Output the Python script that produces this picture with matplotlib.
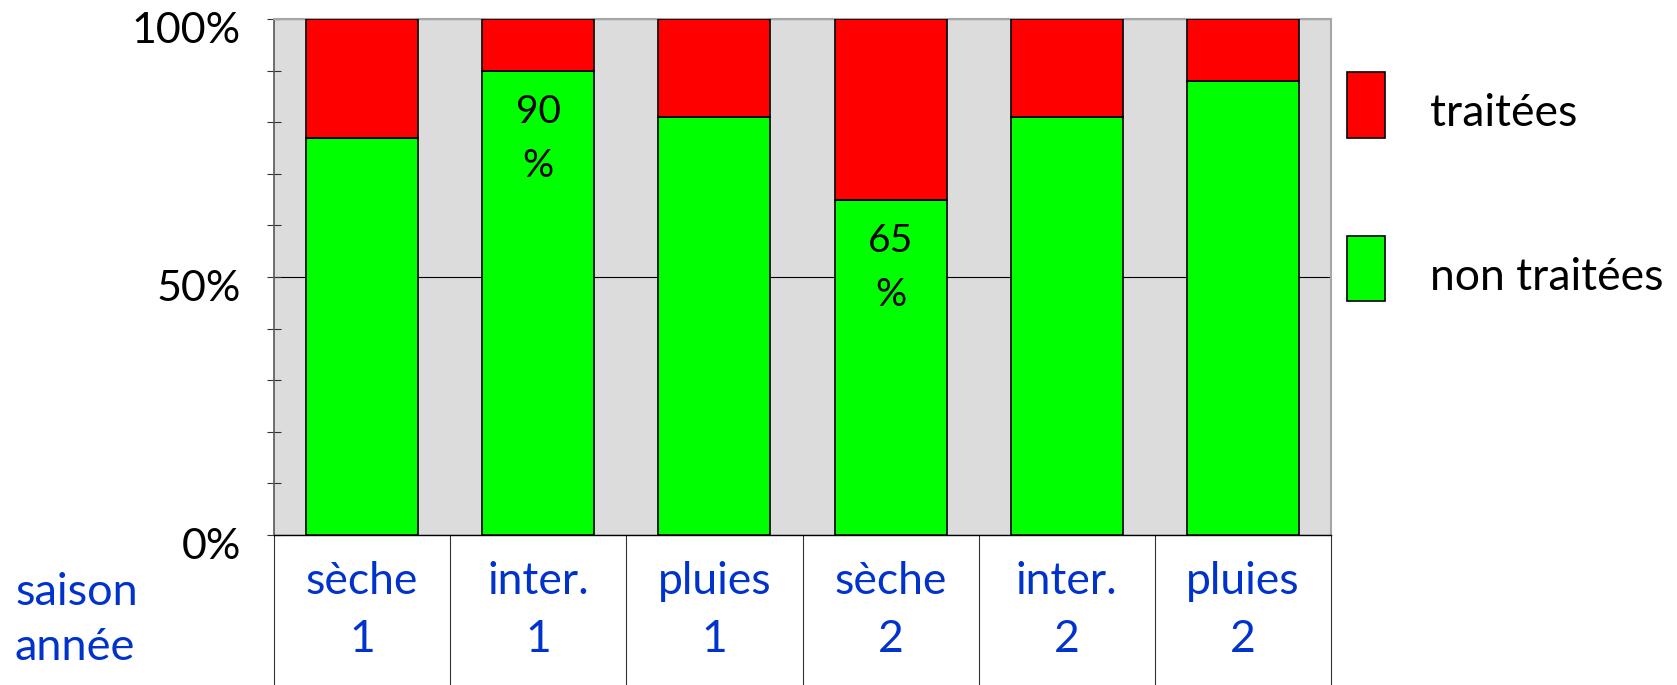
import matplotlib.pyplot as plt
from matplotlib.ticker import MultipleLocator, FuncFormatter
from matplotlib.transforms import ScaledTranslation

plt.rcParams['font.family'] = ['Lato', 'DejaVu Sans']

# share of cases per season and year (%)
categories = ['sèche\n1', 'inter.\n1', 'pluies\n1', 'sèche\n2', 'inter.\n2', 'pluies\n2']
non_traitees = [77, 90, 81, 65, 81, 88]
traitees = [23, 10, 19, 35, 19, 12]
labelled = [1, 3]  # bars carrying a value label

blue = '#0033CC'

fig = plt.figure(figsize=(16.77, 6.85), dpi=100)
ax = fig.add_axes([274 / 1677, 150 / 685, 1057 / 1677, 516 / 685])
ax.set_facecolor('#DCDCDC')

x = range(len(categories))
bars_nt = ax.bar(x, non_traitees, width=0.635, color='#00FF00',
                 edgecolor='black', linewidth=1.2, label='non traitées', zorder=3)
bars_t = ax.bar(x, traitees, width=0.635, bottom=non_traitees, color='#FF0000',
                edgecolor='black', linewidth=1.2, label='traitées', zorder=3)

for i in labelled:
    ax.annotate(f'{non_traitees[i]}\n%', xy=(i, non_traitees[i]),
                xytext=(0, -17), textcoords='offset points',
                ha='center', va='top', fontsize=28, linespacing=1.6, zorder=4)

ax.set_xlim(-0.5, len(categories) - 0.5)
ax.set_ylim(0, 100)

# y axis: 0/50/100 labels, minor ticks every 10
ax.yaxis.set_major_locator(MultipleLocator(50))
ax.yaxis.set_minor_locator(MultipleLocator(10))
ax.yaxis.set_major_formatter(FuncFormatter(lambda v, p: f'{v:.0f}%'))
ax.tick_params(axis='y', which='both', direction='inout', length=10,
               width=0.8, color='#333333', labelsize=31, pad=19)
shift = ScaledTranslation(0, -6 / 72, fig.dpi_scale_trans)
for lab in ax.get_yticklabels():
    lab.set_transform(lab.get_transform() + shift)
ax.yaxis.grid(True, which='major', color='black', linewidth=0.8)
ax.set_axisbelow(True)

# category labels under the axis
ax.set_xticks(list(x))
ax.set_xticklabels(categories, linespacing=1.5)
ax.tick_params(axis='x', length=0, labelsize=32, labelcolor=blue, pad=19)

for side in ['top', 'right']:
    ax.spines[side].set_color('#A6A6A6')
    ax.spines[side].set_linewidth(1.5)
ax.spines['left'].set_color('#595959')
ax.spines['left'].set_linewidth(1.2)
ax.spines['bottom'].set_color('black')
ax.spines['bottom'].set_linewidth(1.0)

# table lines separating the categories below the plot
ax.vlines([b - 0.5 for b in range(len(categories) + 1)], 0, -0.3,
          transform=ax.get_xaxis_transform(), colors='#333333',
          linewidth=0.8, clip_on=False)

fig.text(15 / 1677, 1 - 605 / 685, 'saison', color=blue, fontsize=32.5,
         ha='left', va='baseline')
fig.text(15 / 1677, 1 - 660 / 685, 'année', color=blue, fontsize=32.5,
         ha='left', va='baseline')

leg = ax.legend(handles=[bars_t, bars_nt], loc='upper left',
                bbox_to_anchor=(1347 / 1677, 1 - 72 / 685),
                bbox_transform=fig.transFigure, frameon=False, fontsize=32,
                handlelength=0.86, handleheight=1.9, handletextpad=1.0,
                labelspacing=2.2, borderpad=0, borderaxespad=0)
# sit the legend text a little lower, level with the swatch centres
down = ScaledTranslation(0, -5 / 72, fig.dpi_scale_trans)
for t in leg.get_texts():
    t.set_transform(t.get_transform() + down)

fig.savefig('out.png', dpi=100)
